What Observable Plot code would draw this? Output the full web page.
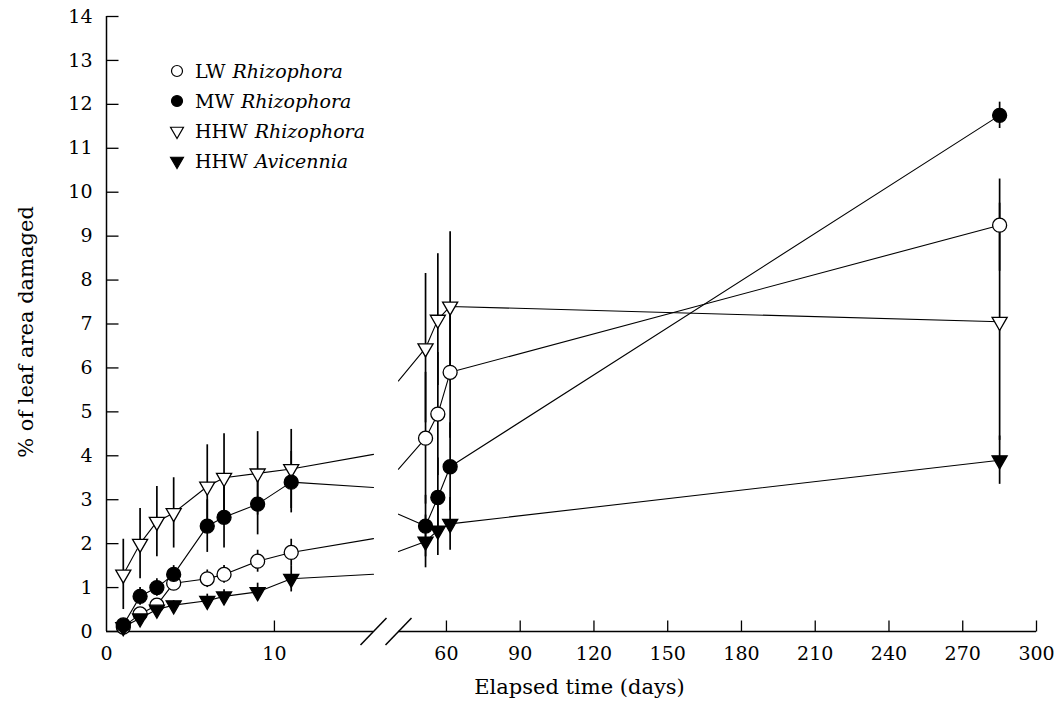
<!DOCTYPE html>
<html><head><meta charset="utf-8">
<script src="https://cdn.jsdelivr.net/npm/d3@7"></script>
<script src="https://cdn.jsdelivr.net/npm/@observablehq/plot@0.6"></script>
<style>
body{margin:0;background:#fff;}
#wrap{position:relative;width:1063px;height:719px;}
#legend{position:absolute;left:168px;top:56px;font-family:"DejaVu Serif",serif;font-size:19px;color:#000;}
#legend .row{display:flex;align-items:center;height:30px;white-space:nowrap;}
#legend svg{width:18px;height:18px;margin-right:9px;overflow:visible;}
#legend i{margin-left:7px;}
</style></head><body><div id="wrap"><div id="legend"></div></div>
<script>
// ---- data ----
const days = [1, 2, 3, 4, 6, 7, 9, 11, 51.5, 56.5, 61.5, 285];
const lwRhizophora  = [0.1, 0.4, 0.6, 1.1, 1.2, 1.3, 1.6, 1.8, 4.4, 4.95, 5.9, 9.25];
const mwRhizophora  = [0.15, 0.8, 1.0, 1.3, 2.4, 2.6, 2.9, 3.4, 2.4, 3.05, 3.75, 11.75];
const hhwRhizophora = [1.3, 2.0, 2.5, 2.7, 3.3, 3.5, 3.6, 3.7, 6.45, 7.1, 7.4, 7.05];
const hhwAvicennia  = [0.1, 0.3, 0.5, 0.6, 0.7, 0.8, 0.9, 1.2, 2.05, 2.3, 2.45, 3.9];
const lwErr  = [0.05, 0.1, 0.15, 0.15, 0.2, 0.2, 0.25, 0.3, 1.5, 1.4, 1.5, 1.05];
const mwErr  = [0.05, 0.2, 0.2, 0.2, 0.6, 0.7, 0.7, 0.7, 0.7, 0.9, 1.0, 0.3];
const hhwErr = [0.8, 0.8, 0.8, 0.8, 0.95, 1.0, 0.95, 0.9, 1.7, 1.5, 1.7, 2.7];
const avErr  = [0.05, 0.1, 0.1, 0.1, 0.15, 0.15, 0.2, 0.3, 0.6, 0.57, 0.6, 0.55];
const seriesNames = ["LW", "MW", "HHW", "HHW"];
const seriesGenus = ["Rhizophora", "Rhizophora", "Rhizophora", "Avicennia"];
const yTicks = [0,1,2,3,4,5,6,7,8,9,10,11,12,13,14];
const xTicksLeft = [0, 10];
const xTicksRight = [60, 90, 120, 150, 180, 210, 240, 270, 300];
const breakLo = 15.9, breakHi = 40.5, xMax = 300;

// ---- styles ----
const styles = [
  {symbol: "circle", fill: "white", rotate: 0, r: 7},
  {symbol: "circle", fill: "black", rotate: 0, r: 7},
  {symbol: "triangle", fill: "white", rotate: 180, r: 5.6},
  {symbol: "triangle", fill: "black", rotate: 180, r: 5.6}
];
const valuesList = [lwRhizophora, mwRhizophora, hhwRhizophora, hhwAvicennia];
const errList = [lwErr, mwErr, hhwErr, avErr];
const drawOrder = [0, 2, 1, 3];

const rows = valuesList.map((vals, s) => days.map((d, i) => ({
  s, day: d, value: vals[i], lo: vals[i] - errList[s][i], hi: vals[i] + errList[s][i]
})));

// line pieces split at the axis break (straight in data space within each panel)
const lineData = [];
rows.forEach((rs, s) => {
  const left = rs.filter(r => r.day <= breakLo), right = rs.filter(r => r.day >= breakHi);
  const a = left[left.length - 1], b = right[0];
  const at = v => a.value + (b.value - a.value) * (v - a.day) / (b.day - a.day);
  left.forEach(r => lineData.push({day: r.day, value: r.value, piece: s + "L"}));
  lineData.push({day: breakLo, value: at(breakLo), piece: s + "L"});
  lineData.push({day: breakHi, value: at(breakHi), piece: s + "R"});
  right.forEach(r => lineData.push({day: r.day, value: r.value, piece: s + "R"}));
});

const tickRight = {draw(ctx) { ctx.moveTo(0, 0); ctx.lineTo(12, 0); }};
const tickUp = {draw(ctx) { ctx.moveTo(0, 0); ctx.lineTo(0, -11); }};
const slash = {draw(ctx) { ctx.moveTo(-13, 13.5); ctx.lineTo(13, -13.5); }};
const font = "DejaVu Serif";

const marks = [
  // axes
  Plot.ruleX([0], {y1: 0, y2: 14, stroke: "black", strokeWidth: 1.5}),
  Plot.ruleY([[0, breakLo], [breakHi, xMax]], {x1: d => d[0], x2: d => d[1], y: 0, stroke: "black", strokeWidth: 1.5}),
  Plot.dot([breakLo, breakHi], {x: d => d, y: 0, symbol: slash, fill: "none", stroke: "black", strokeWidth: 1.5}),
  Plot.dot(yTicks, {x: 0, y: d => d, symbol: tickRight, fill: "none", stroke: "black", strokeWidth: 1.3}),
  Plot.dot([...xTicksLeft.slice(1), ...xTicksRight], {x: d => d, y: 0, symbol: tickUp, fill: "none", stroke: "black", strokeWidth: 1.3}),
  Plot.text(yTicks, {x: 0, y: d => d, text: d => String(d), textAnchor: "end", dx: -14, fontFamily: font, fontSize: 19, fill: "black"}),
  Plot.text([...xTicksLeft, ...xTicksRight], {x: d => d, y: 0, text: d => String(d), dy: 22, fontFamily: font, fontSize: 19, fill: "black"}),
  Plot.text(["% of leaf area damaged"], {frameAnchor: "left", textAnchor: "middle", dx: -80, dy: 8, rotate: -90, fontFamily: font, fontSize: 21, fill: "black"}),
  Plot.text(["Elapsed time (days)"], {frameAnchor: "bottom", textAnchor: "middle", dx: 8, dy: 62, fontFamily: font, fontSize: 21, fill: "black"}),
  // lines
  Plot.line(lineData, {x: "day", y: "value", z: "piece", stroke: "black", strokeWidth: 1.1}),
  // error bars
  Plot.ruleX(rows.flat(), {x: "day", y1: "lo", y2: "hi", stroke: "black", strokeWidth: 1.7}),
  // markers
  ...drawOrder.map(s => Plot.dot(rows[s], {
    x: "day", y: "value", symbol: styles[s].symbol, r: styles[s].r, rotate: styles[s].rotate,
    fill: styles[s].fill, stroke: "black", strokeWidth: 1.3
  }))
];

const plot = Plot.plot({
  width: 1063, height: 719,
  marginTop: 16, marginBottom: 88, marginLeft: 106, marginRight: 27,
  x: {type: "linear", domain: [0, breakLo, breakHi, xMax], range: [106, 373, 398, 1036], axis: null},
  y: {domain: [0, 14], axis: null},
  style: {background: "white", overflow: "visible"},
  marks
});
document.getElementById("wrap").prepend(plot);

// legend
const legend = d3.select("#legend");
seriesNames.forEach((n, s) => {
  const row = legend.append("div").attr("class", "row");
  const sv = row.append("svg").attr("viewBox", "-9 -9 18 18");
  const st = styles[s];
  const size = Math.PI * Math.pow(st.symbol === "circle" ? 5.5 : 4.8, 2);
  sv.append("path")
    .attr("d", d3.symbol(st.symbol === "circle" ? d3.symbolCircle : d3.symbolTriangle, size)())
    .attr("transform", `rotate(${st.rotate})`)
    .attr("fill", st.fill).attr("stroke", "black").attr("stroke-width", 1.2);
  row.append("span").text(n);
  row.append("i").text(seriesGenus[s]);
});
</script>
</body></html>
